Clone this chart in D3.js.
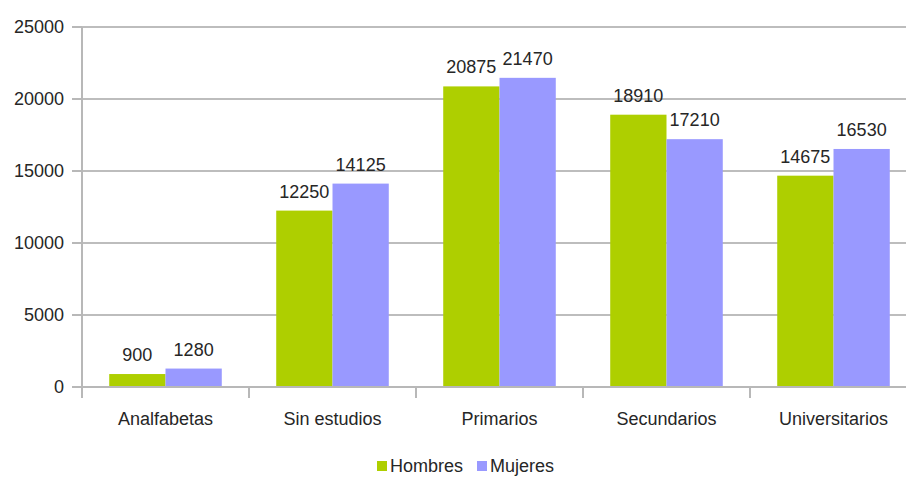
<!DOCTYPE html>
<html>
<head>
<meta charset="utf-8">
<script src="https://cdn.jsdelivr.net/npm/d3@7"></script>
<style>
  body { margin: 0; background: #fff; }
  svg { display: block; font-family: "Liberation Sans", Arial, sans-serif; }
  .grid line { stroke: #bdbdbd; stroke-width: 2; }
  .axis-line { stroke: #b8b8b8; stroke-width: 2; }
  text { fill: #262626; }
</style>
</head>
<body>
<svg id="chart" width="906" height="479"></svg>
<script>
  // data
  const categories = ['Analfabetas', 'Sin estudios', 'Primarios', 'Secundarios', 'Universitarios'];
  const seriesNames = ['Hombres', 'Mujeres'];
  const hombres = [900, 12250, 20875, 18910, 14675];
  const mujeres = [1280, 14125, 21470, 17210, 16530];
  const yTicks = [0, 5000, 10000, 15000, 20000, 25000];
  const colors = ['#aecf00', '#9999ff'];

  const seriesValues = [hombres, mujeres];
  const data = categories.map((c, i) => ({
    cat: c,
    values: seriesNames.map((s, j) => ({ key: s, value: seriesValues[j][i], color: colors[j] }))
  }));

  const svg = d3.select('#chart');

  // plot area (the original runs past the right edge of the picture)
  const plot = { left: 82, right: 917, top: 27, bottom: 387 };

  const x0 = d3.scaleBand().domain(categories).range([plot.left, plot.right]).padding(0);
  const groupPad = x0.bandwidth() * 0.163;
  const x1 = d3.scaleBand().domain(seriesNames).range([groupPad, x0.bandwidth() - groupPad]);
  const y = d3.scaleLinear().domain([0, 25000]).range([plot.bottom, plot.top]);

  // horizontal grid lines
  const grid = svg.append('g').attr('class', 'grid');
  grid.selectAll('line').data(yTicks.filter(d => d > 0))
    .enter().append('line')
    .attr('x1', plot.left).attr('x2', plot.right)
    .attr('y1', d => y(d)).attr('y2', d => y(d));

  // y axis
  const yAxis = svg.append('g');
  yAxis.append('line').attr('class', 'axis-line')
    .attr('x1', plot.left).attr('x2', plot.left).attr('y1', plot.top).attr('y2', plot.bottom + 11);
  yAxis.selectAll('.ytick').data(yTicks)
    .enter().append('line').attr('class', 'axis-line')
    .attr('x1', plot.left - 10).attr('x2', plot.left)
    .attr('y1', d => y(d)).attr('y2', d => y(d));
  yAxis.selectAll('text').data(yTicks)
    .enter().append('text')
    .attr('x', plot.left - 18)
    .attr('y', d => y(d))
    .attr('dy', '0.36em')
    .attr('text-anchor', 'end')
    .style('font-size', '18px')
    .text(d => d);

  // bars
  const groups = svg.selectAll('.group').data(data)
    .enter().append('g')
    .attr('class', 'group')
    .attr('transform', d => `translate(${x0(d.cat)},0)`);

  groups.selectAll('rect').data(d => d.values)
    .enter().append('rect')
    .attr('x', d => x1(d.key))
    .attr('y', d => y(d.value))
    .attr('width', x1.bandwidth())
    .attr('height', d => plot.bottom - y(d.value))
    .attr('fill', d => d.color);

  groups.selectAll('.value').data(d => d.values)
    .enter().append('text')
    .attr('class', 'value')
    .attr('x', d => x1(d.key) + x1.bandwidth() / 2)
    .attr('y', d => y(d.value) - 13)
    .attr('text-anchor', 'middle')
    .style('font-size', '18px')
    .text(d => d.value);

  // x axis
  const xAxis = svg.append('g');
  xAxis.append('line').attr('class', 'axis-line')
    .attr('x1', plot.left - 10).attr('x2', plot.right)
    .attr('y1', plot.bottom).attr('y2', plot.bottom);
  xAxis.selectAll('.xtick').data(categories.slice(1))
    .enter().append('line').attr('class', 'axis-line')
    .attr('x1', d => x0(d)).attr('x2', d => x0(d))
    .attr('y1', plot.bottom).attr('y2', plot.bottom + 11);
  xAxis.selectAll('text').data(categories)
    .enter().append('text')
    .attr('x', d => x0(d) + x0.bandwidth() / 2)
    .attr('y', 425)
    .attr('text-anchor', 'middle')
    .style('font-size', '18px')
    .text(d => d);

  // legend
  const legend = svg.append('g').attr('transform', 'translate(377,0)');
  const legendX = [0, 100];
  const item = legend.selectAll('g').data(seriesNames)
    .enter().append('g')
    .attr('transform', (d, i) => `translate(${legendX[i]},0)`);
  item.append('rect')
    .attr('x', 0).attr('y', 461)
    .attr('width', 10).attr('height', 10)
    .attr('fill', (d, i) => colors[i]);
  item.append('text')
    .attr('x', 13).attr('y', 472)
    .style('font-size', '18px')
    .text(d => d);
</script>
</body>
</html>
